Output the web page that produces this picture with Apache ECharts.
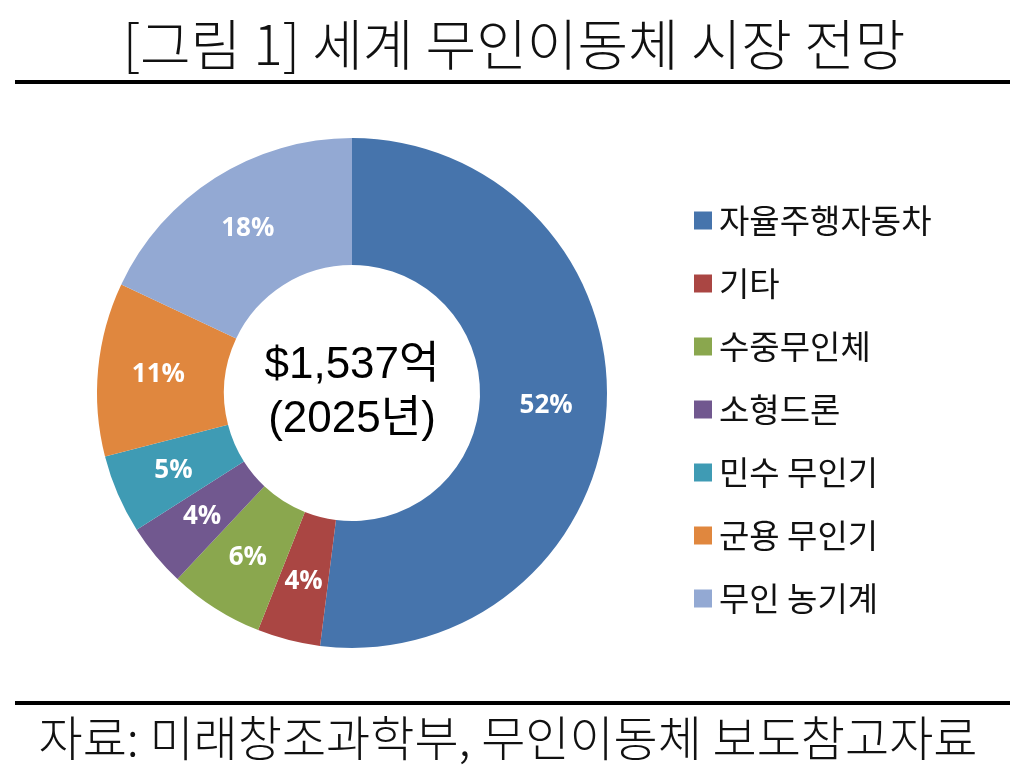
<!DOCTYPE html>
<html><head><meta charset="utf-8">
<script src="https://cdn.jsdelivr.net/npm/echarts@6/dist/echarts.min.js"></script>
<style>html,body{margin:0;padding:0;background:#fff}#c{width:1024px;height:768px}</style>
</head><body><div id="c"></div>
<script>
const categories = ['자율주행자동차','기타','수중무인체','소형드론','민수 무인기','군용 무인기','무인 농기계'];
const shares = [52, 4, 6, 4, 5, 11, 18];
const colors = ['#4674AC','#AA4643','#8AA74E','#71588F','#3F9BB4','#E0873E','#93A9D3'];
const titleText = '[그림 1] 세계 무인이동체 시장 전망';
const centerText = ['$1,537억', '(2025년)'];
const sourceText = '자료: 미래창조과학부, 무인이동체 보도참고자료';

const chart = echarts.init(document.getElementById('c'));
chart.setOption({
  backgroundColor: '#fff',
  animation: false,
  graphic: [
    { type: 'text', x: 514, y: 44, style: { text: titleText, fontFamily: 'Noto Sans CJK KR', fontWeight: 300, fontSize: 55, fill: '#111', align: 'center', verticalAlign: 'middle' } },
    { type: 'rect', shape: { x: 15, y: 80, width: 995, height: 4 }, style: { fill: '#000' } },
    { type: 'rect', shape: { x: 15, y: 701, width: 995, height: 4 }, style: { fill: '#000' } },
    { type: 'text', x: 508, y: 738, style: { text: sourceText, fontFamily: 'Noto Sans CJK KR', fontWeight: 300, fontSize: 48, fill: '#111', align: 'center', verticalAlign: 'middle' } },
    { type: 'text', x: 352, y: 366, style: { text: centerText[0], fontFamily: 'Liberation Sans, Noto Sans CJK KR', fontSize: 44, fill: '#000', align: 'center', verticalAlign: 'middle' } },
    { type: 'text', x: 352, y: 420, style: { text: centerText[1], fontFamily: 'Liberation Sans, Noto Sans CJK KR', fontSize: 44, fill: '#000', align: 'center', verticalAlign: 'middle' } }
  ],
  legend: {
    orient: 'vertical', left: 689, top: 199,
    itemWidth: 18, itemHeight: 18, itemGap: 30,
    icon: 'rect',
    textStyle: { fontFamily: 'Noto Sans CJK KR', fontSize: 33, color: '#111', padding: [0,0,0,2] },
    data: categories
  },
  series: [{
    type: 'pie',
    center: [352, 393],
    radius: [128, 255],
    startAngle: 90,
    clockwise: true,
    color: colors,
    label: {
      position: 'inside', formatter: '{c}%',
      fontFamily: 'Open Sans, Noto Sans CJK KR', fontWeight: 'bold', fontSize: 26, color: '#fff'
    },
    labelLine: { show: false },
    itemStyle: { borderWidth: 0 },
    emphasis: { disabled: true },
    data: categories.map((n, i) => ({ name: n, value: shares[i] }))
  }]
});
</script></body></html>
